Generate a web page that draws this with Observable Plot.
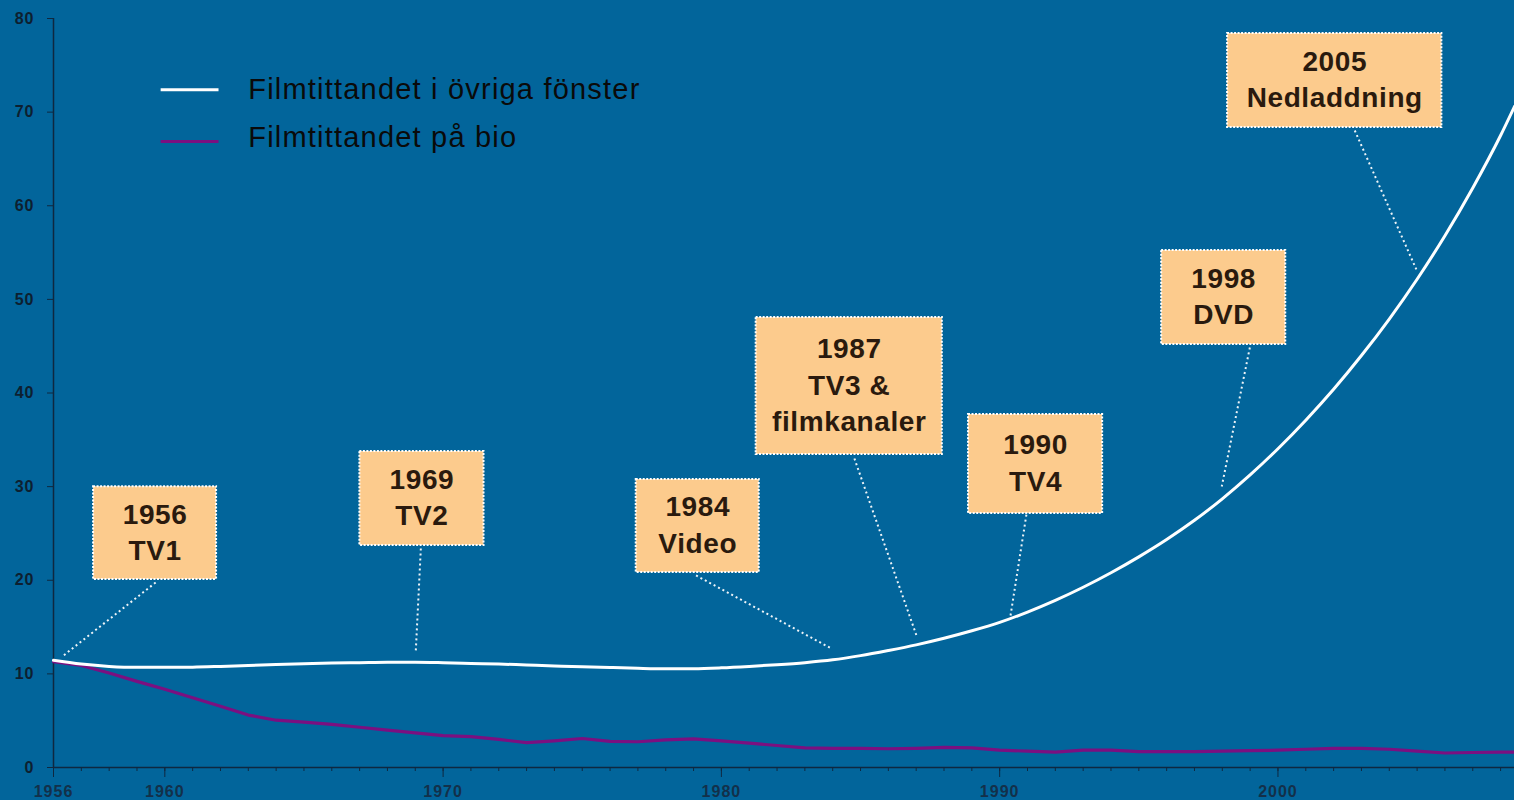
<!DOCTYPE html>
<html><head><meta charset="utf-8">
<script src="https://cdn.jsdelivr.net/npm/d3@7"></script>
<script src="https://cdn.jsdelivr.net/npm/@observablehq/plot@0.6"></script>
<style>html,body{margin:0;padding:0;background:#02659b;overflow:hidden}</style>
</head><body><div id="chart"></div>
<script>
// ---- data ----
const years = [1956,1957,1958,1959,1960,1961,1962,1963,1964,1965,1966,1967,1968,1969,1970,1971,1972,1973,1974,1975,1976,1977,1978,1979,1980,1981,1982,1983,1984,1985,1986,1987,1988,1989,1990,1991,1992,1993,1994,1995,1996,1997,1998,1999,2000,2001,2002,2003,2004,2005,2006,2007,2008,2008.5];
const ovrigaFonster = [11.45,11.05,10.8,10.7,10.7,10.72,10.8,10.9,11.0,11.08,11.15,11.2,11.25,11.25,11.2,11.12,11.05,10.95,10.85,10.76,10.68,10.6,10.55,10.56,10.65,10.8,10.98,11.2,11.5,11.95,12.5,13.1,13.8,14.6,15.5,16.6,17.85,19.25,20.8,22.5,24.35,26.4,28.7,31.25,34.05,37.1,40.4,44.0,47.9,52.15,56.8,61.9,67.5,70.6];
const bio = [11.3,10.9,10.1,9.2,8.35,7.45,6.55,5.6,5.05,4.85,4.6,4.3,4.0,3.7,3.4,3.3,3.0,2.65,2.85,3.1,2.8,2.75,2.95,3.05,2.85,2.6,2.35,2.1,2.05,2.05,2.0,2.05,2.15,2.1,1.85,1.75,1.65,1.85,1.85,1.7,1.7,1.7,1.75,1.8,1.85,1.95,2.05,2.05,1.95,1.75,1.55,1.6,1.65,1.65];
const seriesNames = ["Filmtittandet i övriga fönster", "Filmtittandet på bio"];
const yTicks = [0,10,20,30,40,50,60,70,80];
const xTickLabels = [1956,1960,1970,1980,1990,2000];
const eventYears = [1956,1969,1984,1987,1990,1998,2005];
const eventLabels = ["1956\nTV1","1969\nTV2","1984\nVideo","1987\nTV3 &\nfilmkanaler","1990\nTV4","1998\nDVD","2005\nNedladdning"];

// ---- layout of annotation boxes (data units) ----
const boxX1 = [1957.44,1967.01,1976.94,1981.25,1988.88,1995.82,1998.19];
const boxX2 = [1961.86,1971.47,1981.36,1987.94,1993.70,2000.28,2005.89];
const boxYTop = [30.0,33.75,30.76,48.06,37.70,55.22,78.40];
const boxYBot = [20.08,23.71,20.83,33.43,27.13,45.18,68.36];
const leadFromX = [1959.67,1969.20,1979.09,1984.78,1990.96,1998.99,2002.76];
const leadFromY = [19.76,23.39,20.51,33.0,27.0,44.86,68.04];
const leadToX = [1956.36,1969.02,1983.95,1987.01,1990.39,1997.98,2004.99];
const leadToY = [11.96,12.5,12.71,14.1,16.23,30.01,53.08];

const white = years.map((y,i)=>({year:y, value:ovrigaFonster[i]}));
const purple = years.map((y,i)=>({year:y, value:bio[i]}));
const events = eventYears.map((y,i)=>({
  year:y, label:eventLabels[i],
  x1:boxX1[i], x2:boxX2[i], y1:boxYBot[i], y2:boxYTop[i],
  lx1:leadFromX[i], ly1:leadFromY[i], lx2:leadToX[i], ly2:leadToY[i]
}));
const legend = [
  {name:seriesNames[0], color:"#ffffff", x1:1959.85, x2:1961.93, y:72.4, ty:72.4},
  {name:seriesNames[1], color:"#7b1080", x1:1959.85, x2:1961.93, y:66.85, ty:67.25}
];

const axisColor = "#0f2840";
const font = "'Liberation Sans', Arial, Helvetica, sans-serif";

const chart = Plot.plot({
  width:1514, height:800,
  marginLeft:53, marginRight:0, marginTop:18, marginBottom:33,
  style:{background:"#02659b", fontFamily:font},
  x:{domain:[1956,2008.5]},
  y:{domain:[0,80]},
  marks:[
    Plot.ruleX([1956], {stroke:axisColor, strokeWidth:1.5}),
    Plot.ruleY([0], {stroke:axisColor, strokeWidth:1.5}),
    Plot.axisY({ticks:yTicks, tickSize:6, tickPadding:13, stroke:axisColor, fill:"#0d1f30", fontSize:16, fontWeight:"bold", tickFormat:d=>String(d), label:null}),
    Plot.axisX({ticks:years.filter(d=>Number.isInteger(d)), tickSize:4, stroke:axisColor, text:null, label:null}),
    Plot.axisX({ticks:xTickLabels, tickSize:10, tickPadding:8, stroke:axisColor, fill:"#13304a", fontSize:16, fontWeight:"bold", tickFormat:d=>String(d), label:null}),
    Plot.line(purple, {x:"year", y:"value", stroke:"#7b1080", strokeWidth:3.2}),
    Plot.line(white, {x:"year", y:"value", stroke:"#ffffff", strokeWidth:3, curve:"monotone-x"}),
    Plot.link(events, {x1:"lx1", y1:"ly1", x2:"lx2", y2:"ly2", stroke:"#eef4f8", strokeWidth:2, strokeDasharray:"2,3"}),
    Plot.rect(events, {x1:"x1", x2:"x2", y1:"y1", y2:"y2", fill:"#fccb8d", stroke:"#ffffff", strokeWidth:2, strokeDasharray:"2,1.5"}),
    Plot.text(events, {x:d=>(d.x1+d.x2)/2, y:d=>(d.y1+d.y2)/2, text:"label", fontSize:28, fontWeight:"bold", fill:"#2a1a0e", lineHeight:1.3, dy:-3, fontFamily:font}),
    Plot.link(legend, {x1:"x1", x2:"x2", y1:"y", y2:"y", stroke:"color", strokeWidth:3}),
    Plot.text(legend, {x:1963.0, y:"ty", text:"name", textAnchor:"start", fontSize:29, fill:"#0a0a0a", fontFamily:font})
  ]
});
document.getElementById("chart").appendChild(chart);
// letter spacing tweaks
const textMarks = chart.querySelectorAll('g[aria-label="text"]');
if (textMarks[0]) textMarks[0].setAttribute("letter-spacing", "0.6");
if (textMarks[1]) textMarks[1].setAttribute("letter-spacing", "1.2");
chart.querySelectorAll('g[aria-label="x-axis tick label"], g[aria-label="y-axis tick label"]').forEach(g=>g.setAttribute("letter-spacing","1"));
</script>
</body></html>
